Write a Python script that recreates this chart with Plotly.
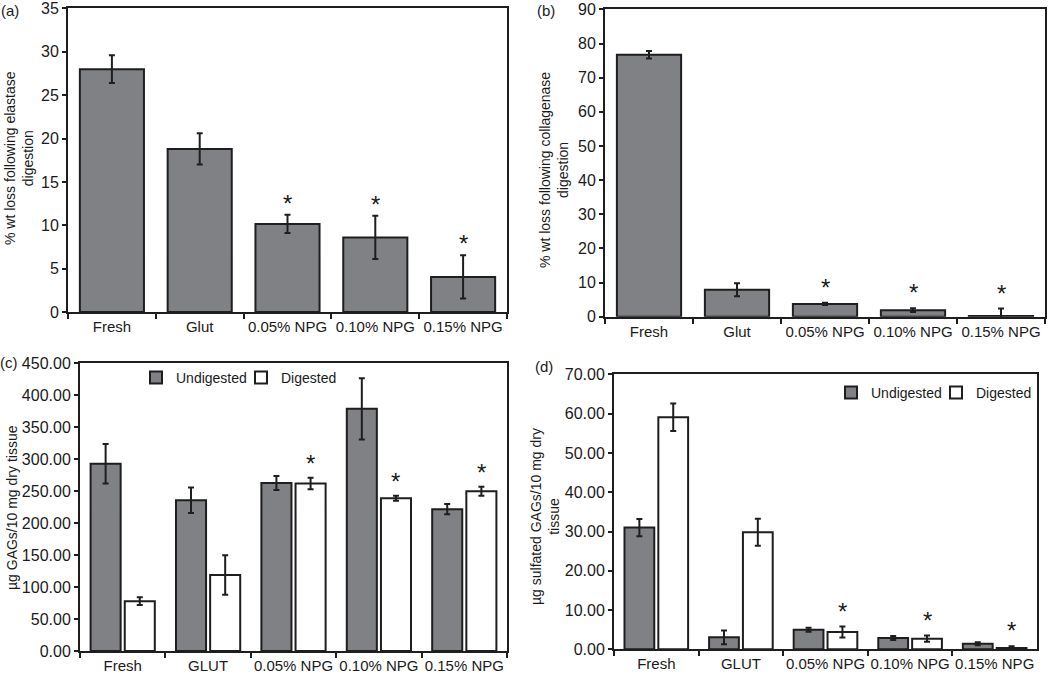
import plotly.graph_objects as go

# ---------------- data ----------------
cats_ab = ["Fresh", "Glut", "0.05% NPG", "0.10% NPG", "0.15% NPG"]
cats_cd = ["Fresh", "GLUT", "0.05% NPG", "0.10% NPG", "0.15% NPG"]

elastase_loss = [28.0, 18.8, 10.15, 8.6, 4.05]
elastase_err = [1.6, 1.8, 1.05, 2.5, 2.5]
elastase_sig = [False, False, True, True, True]

collagenase_loss = [76.7, 7.9, 3.75, 1.9, 0.2]
collagenase_err = [1.1, 1.9, 0.35, 0.55, 2.2]
collagenase_sig = [False, False, True, True, True]

gag_undigested = [293.0, 236.0, 263.0, 379.0, 222.0]
gag_undigested_err = [31.0, 20.0, 11.0, 48.0, 8.0]
gag_digested = [78.0, 119.0, 262.0, 239.0, 250.0]
gag_digested_err = [6.0, 31.0, 9.0, 4.0, 7.0]
gag_sig = [False, False, True, True, True]

sgag_undigested = [31.0, 3.05, 5.0, 2.9, 1.4]
sgag_undigested_err = [2.2, 1.75, 0.5, 0.5, 0.4]
sgag_digested = [59.1, 29.8, 4.4, 2.7, 0.3]
sgag_digested_err = [3.5, 3.45, 1.4, 0.8, 0.5]
sgag_sig = [False, False, True, True, True]

# ---------------- style ----------------
FONT = "Liberation Sans, Arial, sans-serif"
GRAY = "#808184"
EDGE = "#1e1e1e"
TXT = "#1a1a1a"

def err(arr):
    return dict(type="data", array=arr, visible=True, color=EDGE, thickness=2, width=3)

fig = go.Figure()

# (a)
fig.add_trace(go.Bar(x=cats_ab, y=elastase_loss, error_y=err(elastase_err), width=0.73,
                     marker=dict(color=GRAY, line=dict(color=EDGE, width=2)),
                     xaxis="x", yaxis="y", showlegend=False))
# (b)
fig.add_trace(go.Bar(x=cats_ab, y=collagenase_loss, error_y=err(collagenase_err), width=0.73,
                     marker=dict(color=GRAY, line=dict(color=EDGE, width=2)),
                     xaxis="x2", yaxis="y2", showlegend=False))
# (c)
fig.add_trace(go.Bar(x=cats_cd, y=gag_undigested, error_y=err(gag_undigested_err), name="Undigested",
                     marker=dict(color=GRAY, line=dict(color=EDGE, width=2)),
                     xaxis="x3", yaxis="y3", legend="legend"))
fig.add_trace(go.Bar(x=cats_cd, y=gag_digested, error_y=err(gag_digested_err), name="Digested",
                     marker=dict(color="white", line=dict(color=EDGE, width=2)),
                     xaxis="x3", yaxis="y3", legend="legend3"))
# (d)
fig.add_trace(go.Bar(x=cats_cd, y=sgag_undigested, error_y=err(sgag_undigested_err), name="Undigested",
                     marker=dict(color=GRAY, line=dict(color=EDGE, width=2)),
                     xaxis="x4", yaxis="y4", legend="legend2"))
fig.add_trace(go.Bar(x=cats_cd, y=sgag_digested, error_y=err(sgag_digested_err), name="Digested",
                     marker=dict(color="white", line=dict(color=EDGE, width=2)),
                     xaxis="x4", yaxis="y4", legend="legend4"))

annotations = []

def stars(cats, vals, errs, sig, xref, yref, shift=0, xshift=0):
    for c, v, e, s in zip(cats, vals, errs, sig):
        if s:
            annotations.append(dict(x=c, y=v + e, xref=xref, yref=yref, text="*",
                                    showarrow=False, yanchor="bottom", yshift=shift,
                                    xshift=xshift, font=dict(size=24, color=TXT, family=FONT)))

stars(cats_ab, elastase_loss, elastase_err, elastase_sig, "x", "y", shift=-4)
stars(cats_ab, collagenase_loss, collagenase_err, collagenase_sig, "x2", "y2", shift=0)
stars(cats_cd, gag_digested, gag_digested_err, gag_sig, "x3", "y3", shift=-1, xshift=17)
stars(cats_cd, sgag_digested, sgag_digested_err, sgag_sig, "x4", "y4", shift=0, xshift=17)

def label(text, x, y):
    annotations.append(dict(text=text, x=x / 1050, y=1 - y / 675, xref="paper", yref="paper",
                            showarrow=False, xanchor="center", yanchor="middle",
                            font=dict(size=15, color=TXT, family=FONT)))

def ytitle(text, x, y):
    annotations.append(dict(text=text, x=x / 1050, y=1 - y / 675, xref="paper", yref="paper",
                            showarrow=False, xanchor="center", yanchor="middle", textangle=-90,
                            font=dict(size=14, color=TXT, family=FONT)))

label("(a)", 10, 11)
label("(b)", 546, 11)
label("(c)", 9, 362)
label("(d)", 544, 366)

ytitle("% wt loss following elastase<br>digestion", 19, 158)
ytitle("% wt loss following collagenase<br>digestion", 554, 170)
ytitle("µg GAGs/10 mg dry tissue", 12, 508)
ytitle("µg sulfated GAGs/10 mg dry<br>tissue", 545, 517)

def xax(dom, anchor):
    return dict(domain=dom, anchor=anchor, showline=True, linecolor=EDGE, linewidth=2, mirror=True,
                ticks="outside", tickson="boundaries", ticklen=5, tickwidth=2, tickcolor=EDGE,
                tickangle=0, automargin=False,
                showgrid=False, zeroline=False, tickfont=dict(size=15, color=TXT, family=FONT))

def yax(dom, anchor, top, dtick, fmt=None):
    d = dict(domain=dom, anchor=anchor, range=[0, top * 1.0005], dtick=dtick, tick0=0,
             showline=True, linecolor=EDGE,
             linewidth=2, mirror=True, ticks="outside", ticklen=4, tickwidth=1.5, tickcolor=EDGE,
             automargin=False,
             showgrid=False, zeroline=False, tickfont=dict(size=16, color=TXT, family=FONT))
    if fmt:
        d["tickformat"] = fmt
    return d

def leg(x, y):
    return dict(orientation="h", x=x / 1050, y=1 - y / 675, xanchor="left", yanchor="middle",
                bgcolor="rgba(0,0,0,0)", font=dict(size=14, color=TXT, family=FONT),
                itemwidth=30, tracegroupgap=0)

fig.update_layout(
    width=1050, height=675,
    margin=dict(l=0, r=0, t=0, b=0, autoexpand=False),
    paper_bgcolor="white", plot_bgcolor="white",
    barmode="group", bargap=0.2, bargroupgap=0.12,
    font=dict(family=FONT, size=15, color=TXT),
    xaxis=xax([68 / 1050, 507 / 1050], "y"),
    yaxis=yax([1 - 312 / 675, 1 - 8.3 / 675], "x", 35, 5),
    xaxis2=xax([605 / 1050, 1045 / 1050], "y2"),
    yaxis2=yax([1 - 316.7 / 675, 1 - 9.3 / 675], "x2", 90, 10),
    xaxis3=xax([80 / 1050, 507 / 1050], "y3"),
    yaxis3=yax([1 - 651 / 675, 1 - 363.3 / 675], "x3", 450, 50, ".2f"),
    xaxis4=xax([614 / 1050, 1037 / 1050], "y4"),
    yaxis4=yax([1 - 649.3 / 675, 1 - 374.3 / 675], "x4", 70, 10, ".2f"),
    legend=leg(136, 378),
    legend3=leg(241, 378),
    legend2=leg(831, 393),
    legend4=leg(936, 393),
    annotations=annotations,
)

fig.write_html("out.html", config={"displayModeBar": False},
               post_script="document.body.style.margin='0px';")
